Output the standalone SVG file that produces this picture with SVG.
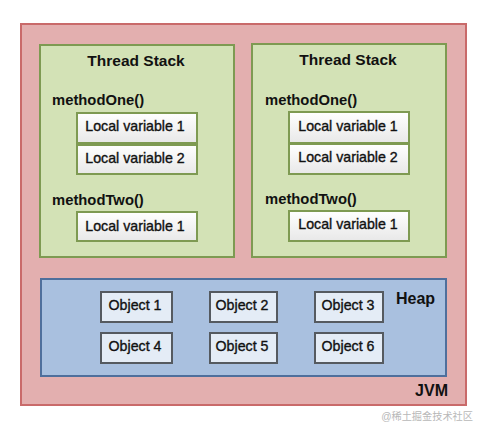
<svg xmlns="http://www.w3.org/2000/svg" width="486" height="435" viewBox="0 0 486 435">
<defs>
<linearGradient id="lv" x1="0" y1="0" x2="0" y2="1">
<stop offset="0" stop-color="#ffffff"/>
<stop offset="1" stop-color="#e8e8e8"/>
</linearGradient>
<style>
.jvm{fill:#e3afaf;stroke:#c96a6a;stroke-width:2}
.ts{fill:#d3e2b6;stroke:#7e9a52;stroke-width:2}
.lv{fill:url(#lv);stroke:#7e9a52;stroke-width:2}
.heap{fill:#a9c0df;stroke:#4f6f9c;stroke-width:2}
.obj{fill:#e4ecf6;stroke:#555a60;stroke-width:2}
text{font-family:"Liberation Sans",Arial,sans-serif;fill:#111}
.title{font-size:15.5px;font-weight:bold}
.h{font-size:16px;font-weight:bold}
.m{font-size:14.8px;font-weight:bold}
.t{font-size:14.2px;stroke:#111;stroke-width:0.35px}
.wm{font-family:"Liberation Sans","Noto Sans CJK SC",sans-serif;font-size:10.2px;fill:#b8b8b8}
</style>
</defs>
<rect width="486" height="435" fill="#ffffff"/>
<g id="jvm">
<rect class="jvm" x="21" y="24" width="445" height="381"/>
<text class="h" x="448" y="396" text-anchor="end">JVM</text>
</g>
<g id="threadStack1">
<rect class="ts" x="40" y="45" width="194" height="212"/>
<text class="title" x="136" y="66" text-anchor="middle">Thread Stack</text>
<text class="m" x="52" y="105">methodOne()</text>
<text class="m" x="52" y="205">methodTwo()</text>
</g>
<g id="ts1-lv1"><rect class="lv" x="77" y="113" width="120" height="30"/><text class="t" x="135" y="131" text-anchor="middle">Local variable 1</text></g>
<g id="ts1-lv2"><rect class="lv" x="77" y="145" width="120" height="29"/><text class="t" x="135" y="163" text-anchor="middle">Local variable 2</text></g>
<g id="ts1-lv3"><rect class="lv" x="77" y="212" width="120" height="29"/><text class="t" x="135" y="231" text-anchor="middle">Local variable 1</text></g>
<g id="threadStack2">
<rect class="ts" x="252" y="44" width="194" height="213"/>
<text class="title" x="348" y="65" text-anchor="middle">Thread Stack</text>
<text class="m" x="265" y="105">methodOne()</text>
<text class="m" x="265" y="204">methodTwo()</text>
</g>
<g id="ts2-lv1"><rect class="lv" x="289" y="112" width="120" height="31"/><text class="t" x="348" y="131" text-anchor="middle">Local variable 1</text></g>
<g id="ts2-lv2"><rect class="lv" x="289" y="144" width="120" height="30"/><text class="t" x="348" y="162" text-anchor="middle">Local variable 2</text></g>
<g id="ts2-lv3"><rect class="lv" x="289" y="211" width="120" height="30"/><text class="t" x="348" y="229" text-anchor="middle">Local variable 1</text></g>
<g id="heap">
<rect class="heap" x="41" y="279" width="405" height="97"/>
<text class="h" x="396" y="304">Heap</text>
</g>
<g id="obj1"><rect class="obj" x="101" y="292" width="71" height="30"/><text class="t" x="135" y="310" text-anchor="middle">Object 1</text></g>
<g id="obj2"><rect class="obj" x="210" y="292" width="67" height="30"/><text class="t" x="242" y="310" text-anchor="middle">Object 2</text></g>
<g id="obj3"><rect class="obj" x="315" y="292" width="68" height="30"/><text class="t" x="348" y="310" text-anchor="middle">Object 3</text></g>
<g id="obj4"><rect class="obj" x="101" y="333" width="71" height="30"/><text class="t" x="135" y="351" text-anchor="middle">Object 4</text></g>
<g id="obj5"><rect class="obj" x="210" y="333" width="67" height="30"/><text class="t" x="242" y="351" text-anchor="middle">Object 5</text></g>
<g id="obj6"><rect class="obj" x="315" y="333" width="68" height="30"/><text class="t" x="348" y="351" text-anchor="middle">Object 6</text></g>
<g id="connectors"></g>
<text class="wm" x="473" y="420" text-anchor="end">@稀土掘金技术社区</text>
</svg>
